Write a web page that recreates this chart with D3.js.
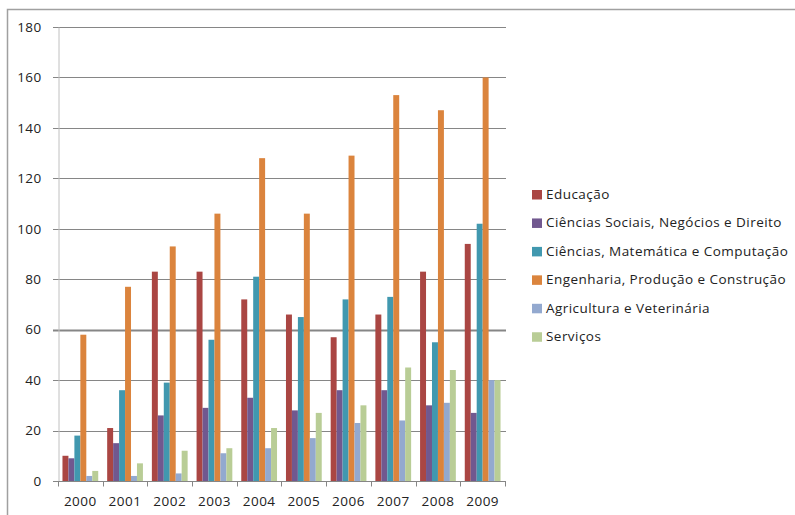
<!DOCTYPE html>
<html>
<head>
<meta charset="utf-8">
<script src="https://cdn.jsdelivr.net/npm/d3@7"></script>
<style>
  html, body { margin: 0; padding: 0; background: #fff; }
  svg { display: block; }
  text { font-family: "Open Sans", "Lato", sans-serif; fill: #222; }
</style>
</head>
<body>
<svg id="chart" width="795" height="515"></svg>
<script>
// Anos (categorias do eixo X)
const years = ["2000","2001","2002","2003","2004","2005","2006","2007","2008","2009"];

// Áreas de formação (séries)
const seriesNames = [
  "Educação",
  "Ciências Sociais, Negócios e Direito",
  "Ciências, Matemática e Computação",
  "Engenharia, Produção e Construção",
  "Agricultura e Veterinária",
  "Serviços"
];

// Valores por série, um por ano
const educacao    = [10, 21, 83, 83, 72, 66, 57, 66, 83, 94];
const sociais     = [ 9, 15, 26, 29, 33, 28, 36, 36, 30, 27];
const ciencias    = [18, 36, 39, 56, 81, 65, 72, 73, 55, 102];
const engenharia  = [58, 77, 93, 106, 128, 106, 129, 153, 147, 160];
const agricultura = [ 2,  2,  3, 11, 13, 17, 23, 24, 31, 40];
const servicos    = [ 4,  7, 12, 13, 21, 27, 30, 45, 44, 40];

const yTicks = [0, 20, 40, 60, 80, 100, 120, 140, 160, 180];

const colors = ["#AA4643", "#71588F", "#4198AF", "#DB843D", "#93A9CF", "#B9CD96"];

const seriesValues = [educacao, sociais, ciencias, engenharia, agricultura, servicos];
const rows = years.map((y, i) => ({
  year: y,
  values: seriesNames.map((name, s) => ({ name, s, v: seriesValues[s][i] }))
}));

const svg = d3.select("#chart");

// Moldura da área do gráfico
svg.append("rect")
  .attr("x", 7.5).attr("y", 9.5)
  .attr("width", 800).attr("height", 520)
  .attr("fill", "none").attr("stroke", "#a0a0a0").attr("stroke-width", 1.5);

const plot = { left: 58, right: 505, top: 27, bottom: 481 };

const x0 = d3.scaleBand().domain(years).range([plot.left, plot.right]).paddingInner(0.2).paddingOuter(0.1);
const x1 = d3.scaleBand().domain(d3.range(seriesNames.length)).range([0, x0.bandwidth()]);
const y = d3.scaleLinear().domain([0, 180]).range([plot.bottom, plot.top]);

// Grade horizontal
const grid = svg.append("g");
grid.selectAll("line").data(yTicks.filter(t => t > 0)).join("line")
  .attr("x1", plot.left - 5).attr("x2", plot.right + 1)
  .attr("y1", d => Math.round(y(d)) + 0.5).attr("y2", d => Math.round(y(d)) + 0.5)
  .attr("stroke", "#868686")
  .attr("stroke-width", d => d === 60 ? 2 : 1);

// Eixo Y
const yAxis = d3.axisLeft(y).tickValues(yTicks).tickSize(0).tickPadding(17);
const gy = svg.append("g").attr("transform", `translate(${plot.left + 0.5},0)`).call(yAxis);
gy.select(".domain").attr("stroke", "#c0c0c0");
gy.selectAll("text")
  .style("font-size", "13.5px")
  .style("font-family", "'Open Sans', sans-serif")
  .style("letter-spacing", "0.4px")
  .attr("fill", "#222");

// Barras
const groups = svg.append("g").selectAll("g").data(rows).join("g")
  .attr("transform", d => `translate(${x0(d.year)},0)`);
groups.selectAll("rect").data(d => d.values).join("rect")
  .attr("x", d => x1(d.s))
  .attr("width", x1.bandwidth())
  .attr("y", d => y(d.v))
  .attr("height", d => y(0) - y(d.v))
  .attr("fill", d => colors[d.s]);

// Eixo X
const xAxisG = svg.append("g").attr("transform", `translate(0,${plot.bottom + 0.5})`);
xAxisG.append("line")
  .attr("x1", plot.left - 5).attr("x2", plot.right + 1)
  .attr("stroke", "#868686");
const boundaries = x0.domain().map(d => x0(d) - x0.step() * x0.paddingInner() / 2).concat([plot.right]);
xAxisG.selectAll("line.tick").data(boundaries).join("line")
  .attr("class", "tick")
  .attr("x1", d => Math.round(d) + 0.5).attr("x2", d => Math.round(d) + 0.5)
  .attr("y1", 0).attr("y2", 5)
  .attr("stroke", "#868686");
xAxisG.selectAll("text").data(years).join("text")
  .attr("x", d => x0(d) + x0.bandwidth() / 2)
  .attr("y", 24)
  .attr("text-anchor", "middle")
  .style("font-size", "13.5px")
  .style("letter-spacing", "0.5px")
  .text(d => d);

// Legenda
const legend = svg.append("g").attr("transform", "translate(532,194.5)");
const items = legend.selectAll("g").data(seriesNames).join("g")
  .attr("transform", (d, i) => `translate(0,${i * 28.45})`);
items.append("rect")
  .attr("x", 0).attr("y", -4.5).attr("width", 10).attr("height", 9.5)
  .attr("fill", (d, i) => colors[i]);
items.append("text")
  .attr("x", 14).attr("y", 4.5)
  .style("font-size", "13.5px")
  .style("letter-spacing", "0.45px")
  .text(d => d);
</script>
</body>
</html>
